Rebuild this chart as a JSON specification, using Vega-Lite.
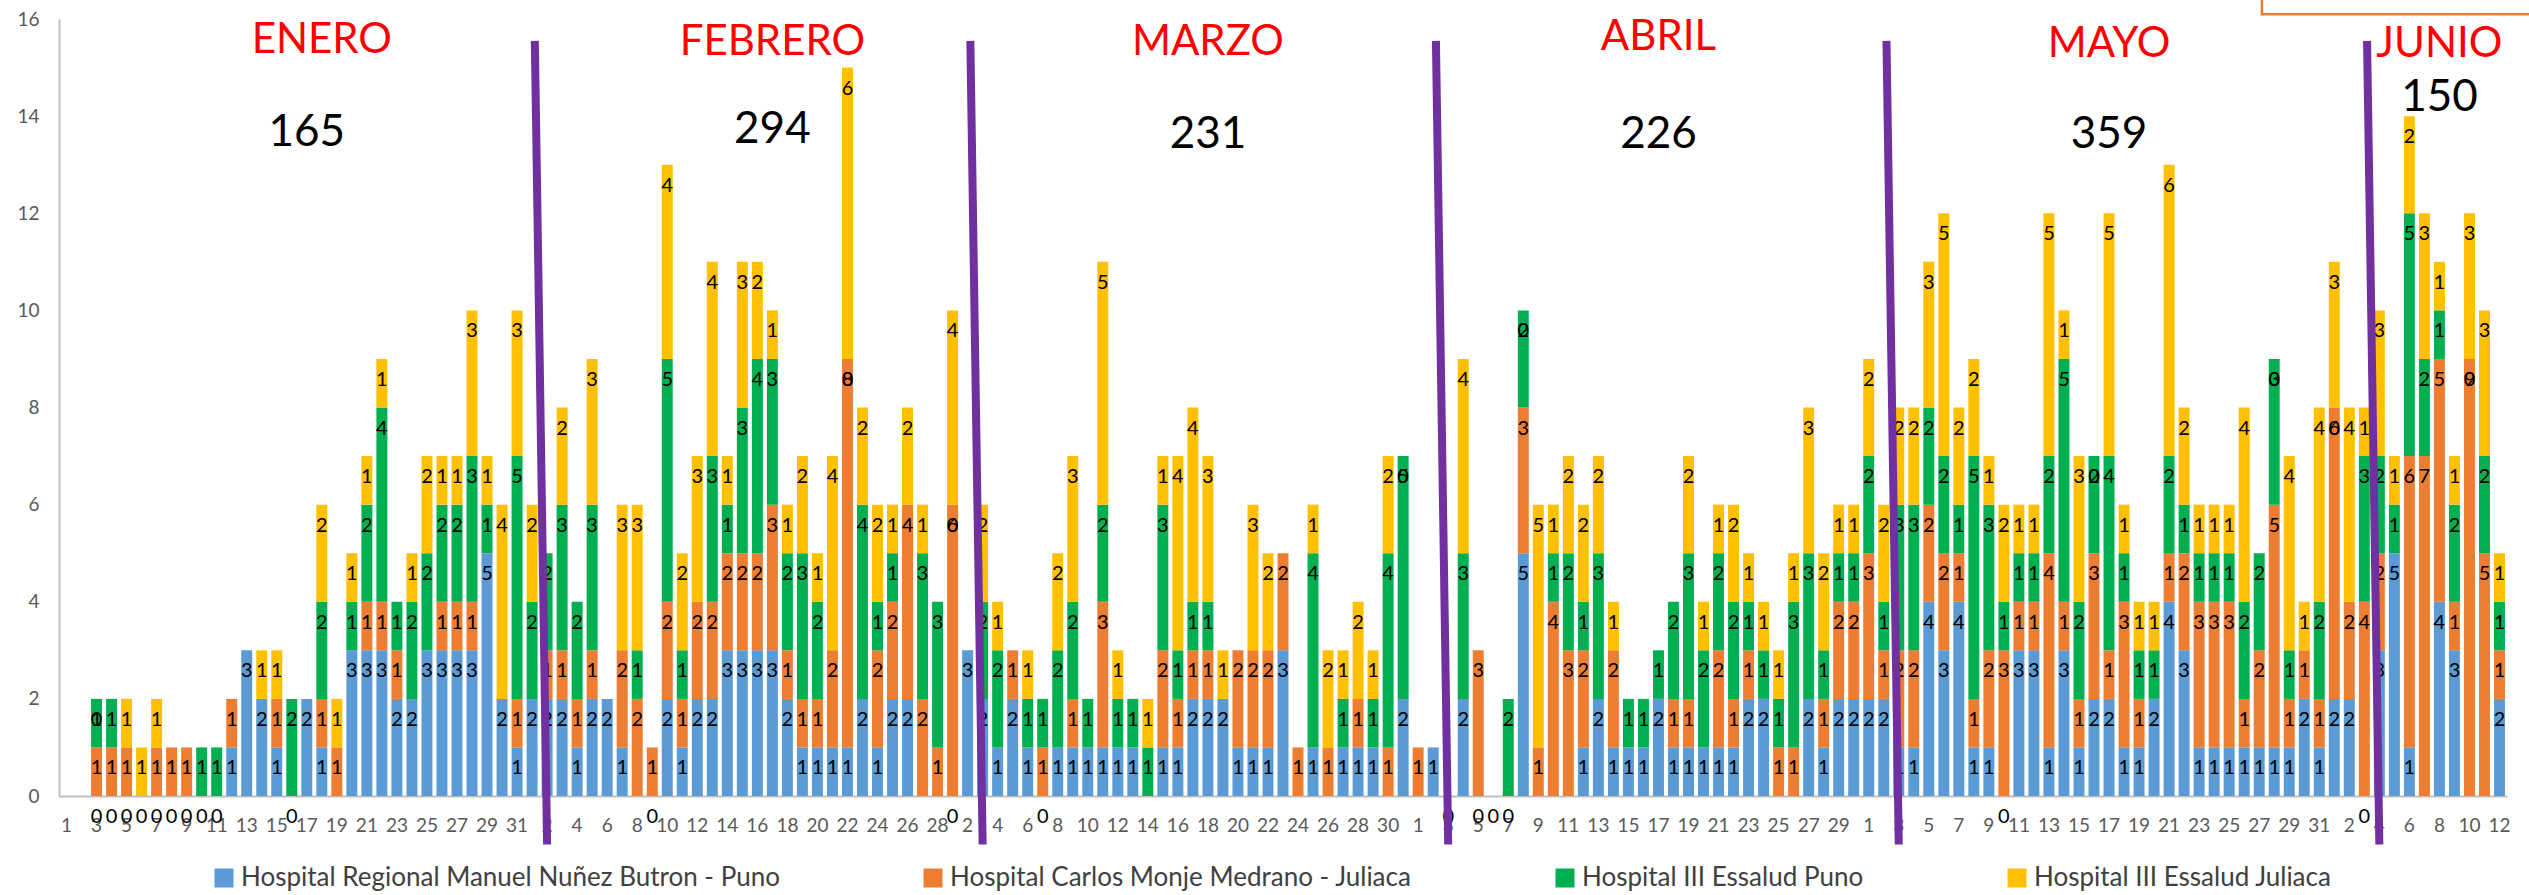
{
  "$schema": "https://vega.github.io/schema/vega-lite/v6.json",
  "width": 2448,
  "height": 777,
  "autosize": {"type": "none"},
  "padding": {"left": 59, "top": 19, "right": 22, "bottom": 99},
  "background": "white",
  "config": {
    "view": {"stroke": null},
    "font": "Lato",
    "text": {"font": "Lato"}
  },
  "data": {
    "values": [
      {"d":"0101","h1":0,"h2":0,"h3":0,"h4":0},{"d":"0102","h1":0,"h2":0,"h3":0,"h4":0},{"d":"0103","h1":0,"h2":1,"h3":1,"h4":0,"z":"h1 h4"},{"d":"0104","h1":0,"h2":1,"h3":1,"h4":0,"z":"h1"},{"d":"0105","h1":0,"h2":1,"h3":0,"h4":1,"z":"h1"},{"d":"0106","h1":0,"h2":0,"h3":0,"h4":1,"z":"h1"},{"d":"0107","h1":0,"h2":1,"h3":0,"h4":1,"z":"h1"},{"d":"0108","h1":0,"h2":1,"h3":0,"h4":0,"z":"h1"},{"d":"0109","h1":0,"h2":1,"h3":0,"h4":0,"z":"h1"},{"d":"0110","h1":0,"h2":0,"h3":1,"h4":0,"z":"h1"},{"d":"0111","h1":0,"h2":0,"h3":1,"h4":0,"z":"h1"},{"d":"0112","h1":1,"h2":1,"h3":0,"h4":0},{"d":"0113","h1":3,"h2":0,"h3":0,"h4":0},{"d":"0114","h1":2,"h2":0,"h3":0,"h4":1},{"d":"0115","h1":1,"h2":1,"h3":0,"h4":1},{"d":"0116","h1":0,"h2":0,"h3":2,"h4":0,"z":"h1"},{"d":"0117","h1":2,"h2":0,"h3":0,"h4":0},{"d":"0118","h1":1,"h2":1,"h3":2,"h4":2},{"d":"0119","h1":0,"h2":1,"h3":0,"h4":1},{"d":"0120","h1":3,"h2":0,"h3":1,"h4":1},{"d":"0121","h1":3,"h2":1,"h3":2,"h4":1},{"d":"0122","h1":3,"h2":1,"h3":4,"h4":1},{"d":"0123","h1":2,"h2":1,"h3":1,"h4":0},{"d":"0124","h1":2,"h2":0,"h3":2,"h4":1},{"d":"0125","h1":3,"h2":0,"h3":2,"h4":2},{"d":"0126","h1":3,"h2":1,"h3":2,"h4":1},{"d":"0127","h1":3,"h2":1,"h3":2,"h4":1},{"d":"0128","h1":3,"h2":1,"h3":3,"h4":3},{"d":"0129","h1":5,"h2":0,"h3":1,"h4":1},{"d":"0130","h1":2,"h2":0,"h3":0,"h4":4},{"d":"0131","h1":1,"h2":1,"h3":5,"h4":3},
      {"d":"0201","h1":2,"h2":0,"h3":2,"h4":2},{"d":"0202","h1":2,"h2":1,"h3":2,"h4":0},{"d":"0203","h1":2,"h2":1,"h3":3,"h4":2},{"d":"0204","h1":1,"h2":1,"h3":2,"h4":0},{"d":"0205","h1":2,"h2":1,"h3":3,"h4":3},{"d":"0206","h1":2,"h2":0,"h3":0,"h4":0},{"d":"0207","h1":1,"h2":2,"h3":0,"h4":3},{"d":"0208","h1":0,"h2":2,"h3":1,"h4":3},{"d":"0209","h1":0,"h2":1,"h3":0,"h4":0,"z":"h1"},{"d":"0210","h1":2,"h2":2,"h3":5,"h4":4},{"d":"0211","h1":1,"h2":1,"h3":1,"h4":2},{"d":"0212","h1":2,"h2":2,"h3":0,"h4":3},{"d":"0213","h1":2,"h2":2,"h3":3,"h4":4},{"d":"0214","h1":3,"h2":2,"h3":1,"h4":1},{"d":"0215","h1":3,"h2":2,"h3":3,"h4":3},{"d":"0216","h1":3,"h2":2,"h3":4,"h4":2},{"d":"0217","h1":3,"h2":3,"h3":3,"h4":1},{"d":"0218","h1":2,"h2":1,"h3":2,"h4":1},{"d":"0219","h1":1,"h2":1,"h3":3,"h4":2},{"d":"0220","h1":1,"h2":1,"h3":2,"h4":1},{"d":"0221","h1":1,"h2":2,"h3":0,"h4":4},{"d":"0222","h1":1,"h2":8,"h3":0,"h4":6,"z":"h3"},{"d":"0223","h1":2,"h2":0,"h3":4,"h4":2},{"d":"0224","h1":1,"h2":2,"h3":1,"h4":2},{"d":"0225","h1":2,"h2":2,"h3":1,"h4":1},{"d":"0226","h1":2,"h2":4,"h3":0,"h4":2},{"d":"0227","h1":0,"h2":2,"h3":3,"h4":1},{"d":"0228","h1":0,"h2":1,"h3":3,"h4":0},
      {"d":"0301","h1":0,"h2":6,"h3":0,"h4":4,"z":"h1 h3"},{"d":"0302","h1":3,"h2":0,"h3":0,"h4":0},{"d":"0303","h1":2,"h2":0,"h3":2,"h4":2},{"d":"0304","h1":1,"h2":0,"h3":2,"h4":1},{"d":"0305","h1":2,"h2":1,"h3":0,"h4":0},{"d":"0306","h1":1,"h2":0,"h3":1,"h4":1},{"d":"0307","h1":0,"h2":1,"h3":1,"h4":0,"z":"h1"},{"d":"0308","h1":1,"h2":0,"h3":2,"h4":2},{"d":"0309","h1":1,"h2":1,"h3":2,"h4":3},{"d":"0310","h1":1,"h2":0,"h3":1,"h4":0},{"d":"0311","h1":1,"h2":3,"h3":2,"h4":5},{"d":"0312","h1":1,"h2":0,"h3":1,"h4":1},{"d":"0313","h1":1,"h2":0,"h3":1,"h4":0},{"d":"0314","h1":0,"h2":0,"h3":1,"h4":1},{"d":"0315","h1":1,"h2":2,"h3":3,"h4":1},{"d":"0316","h1":1,"h2":1,"h3":1,"h4":4},{"d":"0317","h1":2,"h2":1,"h3":1,"h4":4},{"d":"0318","h1":2,"h2":1,"h3":1,"h4":3},{"d":"0319","h1":2,"h2":0,"h3":0,"h4":1},{"d":"0320","h1":1,"h2":2,"h3":0,"h4":0},{"d":"0321","h1":1,"h2":2,"h3":0,"h4":3},{"d":"0322","h1":1,"h2":2,"h3":0,"h4":2},{"d":"0323","h1":3,"h2":2,"h3":0,"h4":0},{"d":"0324","h1":0,"h2":1,"h3":0,"h4":0},{"d":"0325","h1":1,"h2":0,"h3":4,"h4":1},{"d":"0326","h1":0,"h2":1,"h3":0,"h4":2},{"d":"0327","h1":1,"h2":0,"h3":1,"h4":1},{"d":"0328","h1":1,"h2":1,"h3":0,"h4":2},{"d":"0329","h1":1,"h2":0,"h3":1,"h4":1},{"d":"0330","h1":0,"h2":1,"h3":4,"h4":2},{"d":"0331","h1":2,"h2":0,"h3":5,"h4":0,"z":"h4"},
      {"d":"0401","h1":0,"h2":1,"h3":0,"h4":0},{"d":"0402","h1":1,"h2":0,"h3":0,"h4":0},{"d":"0403","h1":0,"h2":0,"h3":0,"h4":0,"z":"h1"},{"d":"0404","h1":2,"h2":0,"h3":3,"h4":4},{"d":"0405","h1":0,"h2":3,"h3":0,"h4":0,"z":"h1"},{"d":"0406","h1":0,"h2":0,"h3":0,"h4":0,"z":"h1"},{"d":"0407","h1":0,"h2":0,"h3":2,"h4":0,"z":"h1"},{"d":"0408","h1":5,"h2":3,"h3":2,"h4":0,"z":"h4"},{"d":"0409","h1":0,"h2":1,"h3":0,"h4":5},{"d":"0410","h1":0,"h2":4,"h3":1,"h4":1},{"d":"0411","h1":0,"h2":3,"h3":2,"h4":2},{"d":"0412","h1":1,"h2":2,"h3":1,"h4":2},{"d":"0413","h1":2,"h2":0,"h3":3,"h4":2},{"d":"0414","h1":1,"h2":2,"h3":0,"h4":1},{"d":"0415","h1":1,"h2":0,"h3":1,"h4":0},{"d":"0416","h1":1,"h2":0,"h3":1,"h4":0},{"d":"0417","h1":2,"h2":0,"h3":1,"h4":0},{"d":"0418","h1":1,"h2":1,"h3":2,"h4":0},{"d":"0419","h1":1,"h2":1,"h3":3,"h4":2},{"d":"0420","h1":1,"h2":0,"h3":2,"h4":1},{"d":"0421","h1":1,"h2":2,"h3":2,"h4":1},{"d":"0422","h1":1,"h2":1,"h3":2,"h4":2},{"d":"0423","h1":2,"h2":1,"h3":1,"h4":1},{"d":"0424","h1":2,"h2":0,"h3":1,"h4":1},{"d":"0425","h1":0,"h2":1,"h3":1,"h4":1},{"d":"0426","h1":0,"h2":1,"h3":3,"h4":1},{"d":"0427","h1":2,"h2":0,"h3":3,"h4":3},{"d":"0428","h1":1,"h2":1,"h3":1,"h4":2},{"d":"0429","h1":2,"h2":2,"h3":1,"h4":1},{"d":"0430","h1":2,"h2":2,"h3":1,"h4":1},
      {"d":"0501","h1":2,"h2":3,"h3":2,"h4":2},{"d":"0502","h1":2,"h2":1,"h3":1,"h4":2},{"d":"0503","h1":1,"h2":2,"h3":3,"h4":2},{"d":"0504","h1":1,"h2":2,"h3":3,"h4":2},{"d":"0505","h1":4,"h2":2,"h3":2,"h4":3},{"d":"0506","h1":3,"h2":2,"h3":2,"h4":5},{"d":"0507","h1":4,"h2":1,"h3":1,"h4":2},{"d":"0508","h1":1,"h2":1,"h3":5,"h4":2},{"d":"0509","h1":1,"h2":2,"h3":3,"h4":1},{"d":"0510","h1":0,"h2":3,"h3":1,"h4":2,"z":"h1"},{"d":"0511","h1":3,"h2":1,"h3":1,"h4":1},{"d":"0512","h1":3,"h2":1,"h3":1,"h4":1},{"d":"0513","h1":1,"h2":4,"h3":2,"h4":5},{"d":"0514","h1":3,"h2":1,"h3":5,"h4":1},{"d":"0515","h1":1,"h2":1,"h3":2,"h4":3},{"d":"0516","h1":2,"h2":3,"h3":2,"h4":0,"z":"h4"},{"d":"0517","h1":2,"h2":1,"h3":4,"h4":5},{"d":"0518","h1":1,"h2":3,"h3":1,"h4":1},{"d":"0519","h1":1,"h2":1,"h3":1,"h4":1},{"d":"0520","h1":2,"h2":0,"h3":1,"h4":1},{"d":"0521","h1":4,"h2":1,"h3":2,"h4":6},{"d":"0522","h1":3,"h2":2,"h3":1,"h4":2},{"d":"0523","h1":1,"h2":3,"h3":1,"h4":1},{"d":"0524","h1":1,"h2":3,"h3":1,"h4":1},{"d":"0525","h1":1,"h2":3,"h3":1,"h4":1},{"d":"0526","h1":1,"h2":1,"h3":2,"h4":4},{"d":"0527","h1":1,"h2":2,"h3":2,"h4":0},{"d":"0528","h1":1,"h2":5,"h3":3,"h4":0,"z":"h4"},{"d":"0529","h1":1,"h2":1,"h3":1,"h4":4},{"d":"0530","h1":2,"h2":1,"h3":0,"h4":1},{"d":"0531","h1":1,"h2":1,"h3":2,"h4":4},
      {"d":"0601","h1":2,"h2":6,"h3":0,"h4":3,"z":"h3"},{"d":"0602","h1":2,"h2":2,"h3":0,"h4":4},{"d":"0603","h1":0,"h2":4,"h3":3,"h4":1,"z":"h1"},{"d":"0604","h1":3,"h2":2,"h3":2,"h4":3},{"d":"0605","h1":5,"h2":0,"h3":1,"h4":1},{"d":"0606","h1":1,"h2":6,"h3":5,"h4":2},{"d":"0607","h1":0,"h2":7,"h3":2,"h4":3},{"d":"0608","h1":4,"h2":5,"h3":1,"h4":1},{"d":"0609","h1":3,"h2":1,"h3":2,"h4":1},{"d":"0610","h1":0,"h2":9,"h3":0,"h4":3,"z":"h3"},{"d":"0611","h1":0,"h2":5,"h3":2,"h4":3},{"d":"0612","h1":2,"h2":1,"h3":1,"h4":1}
    ]
  },
  "layer": [
    {
      "transform": [{"fold": ["h1", "h2", "h3", "h4"], "as": ["s", "n"]}],
      "mark": {"type": "bar"},
      "encoding": {
        "x": {
          "field": "d", "type": "ordinal",
          "scale": {"type": "band", "paddingInner": 0.27, "paddingOuter": 0.135},
          "axis": {
            "title": null,
            "values": ["0101","0103","0105","0107","0109","0111","0113","0115","0117","0119","0121","0123","0125","0127","0129","0131","0202","0204","0206","0208","0210","0212","0214","0216","0218","0220","0222","0224","0226","0228","0302","0304","0306","0308","0310","0312","0314","0316","0318","0320","0322","0324","0326","0328","0330","0401","0403","0405","0407","0409","0411","0413","0415","0417","0419","0421","0423","0425","0427","0429","0501","0503","0505","0507","0509","0511","0513","0515","0517","0519","0521","0523","0525","0527","0529","0531","0602","0604","0606","0608","0610","0612"],
            "labelExpr": "toNumber(substring(datum.value, 2, 4))",
            "labelAngle": 0,
            "labelOverlap": false,
            "ticks": false,
            "domainColor": "#BFBFBF",
            "domainWidth": 2,
            "labelFontSize": 19,
            "labelColor": "#595959",
            "labelPadding": 20
          }
        },
        "y": {
          "field": "n", "type": "quantitative", "stack": "zero",
          "scale": {"domain": [0, 16], "nice": false},
          "axis": {
            "title": null,
            "values": [0, 2, 4, 6, 8, 10, 12, 14, 16],
            "grid": false,
            "ticks": false,
            "domainColor": "#BFBFBF",
            "domainWidth": 2,
            "labelFontSize": 19,
            "labelColor": "#595959",
            "labelPadding": 20
          }
        },
        "color": {
          "field": "s", "type": "nominal",
          "scale": {"domain": ["h1", "h2", "h3", "h4"], "range": ["#5B9BD5", "#ED7D31", "#00B050", "#FFC000"]},
          "legend": {
            "title": null,
            "orient": "none",
            "direction": "horizontal",
            "legendX": 152,
            "legendY": 846,
            "symbolType": "square",
            "symbolSize": 361,
            "symbolStrokeWidth": 0,
            "labelFontSize": 26,
            "labelColor": "#404040",
            "labelLimit": 1000,
            "columnPadding": 140,
            "labelExpr": "datum.value == 'h1' ? 'Hospital Regional Manuel Nuñez Butron - Puno' : datum.value == 'h2' ? 'Hospital Carlos Monje Medrano - Juliaca' : datum.value == 'h3' ? 'Hospital III Essalud Puno' : 'Hospital III Essalud Juliaca'"
          }
        },
        "order": {"field": "s", "sort": "ascending"}
      }
    },
    {
      "transform": [{"fold": ["h1", "h2", "h3", "h4"], "as": ["s", "n"]}, {"filter": "datum.n > 0 || indexof(datum.z || '', datum.s) >= 0"}],
      "mark": {"type": "text", "fontSize": 20, "color": "black", "baseline": "middle", "dy": 21, "clip": false},
      "encoding": {
        "x": {"field": "d", "type": "ordinal"},
        "y": {"field": "n", "type": "quantitative", "stack": "zero"},
        "detail": {"field": "s"},
        "order": {"field": "s", "sort": "ascending"},
        "text": {"field": "n", "type": "quantitative"}
      }
    },
    {
      "data": {"values": [{"d": "0201", "d2": "0202"}, {"d": "0302", "d2": "0303"}, {"d": "0402", "d2": "0403"}, {"d": "0502", "d2": "0503"}, {"d": "0603", "d2": "0604"}]},
      "mark": {"type": "rule", "color": "#7030A0", "strokeWidth": 8, "clip": false},
      "encoding": {
        "x": {"field": "d", "type": "ordinal", "bandPosition": 0.75},
        "x2": {"field": "d2"},
        "y": {"datum": 15.55},
        "y2": {"datum": -1.0}
      }
    },
    {
      "data": {"values": [{"d": "0118", "y": 15.57, "t": "ENERO"}, {"d": "0217", "y": 15.53, "t": "FEBRERO"}, {"d": "0318", "y": 15.53, "t": "MARZO"}, {"d": "0417", "y": 15.62, "t": "ABRIL"}, {"d": "0517", "y": 15.49, "t": "MAYO"}, {"d": "0608", "y": 15.49, "t": "JUNIO"}]},
      "mark": {"type": "text", "fontSize": 42, "color": "#FF0000", "baseline": "middle", "clip": false},
      "encoding": {
        "x": {"field": "d", "type": "ordinal"},
        "y": {"field": "y", "type": "quantitative"},
        "text": {"field": "t"}
      }
    },
    {
      "data": {"values": [{"d": "0117", "y": 13.65, "t": "165"}, {"d": "0217", "y": 13.71, "t": "294"}, {"d": "0318", "y": 13.61, "t": "231"}, {"d": "0417", "y": 13.61, "t": "226"}, {"d": "0517", "y": 13.61, "t": "359"}, {"d": "0608", "y": 14.38, "t": "150"}]},
      "mark": {"type": "text", "fontSize": 44, "color": "black", "baseline": "middle", "clip": false},
      "encoding": {
        "x": {"field": "d", "type": "ordinal"},
        "y": {"field": "y", "type": "quantitative"},
        "text": {"field": "t"}
      }
    },
    {
      "data": {"values": [{"d": "0606", "y": 16.1, "y2": 17.5}]},
      "mark": {"type": "bar", "width": 295, "fill": null, "fillOpacity": 0, "stroke": "#ED7D31", "strokeWidth": 2.5, "clip": false},
      "encoding": {
        "x": {"field": "d", "type": "ordinal"},
        "y": {"field": "y", "type": "quantitative"},
        "y2": {"field": "y2"}
      }
    }
  ]
}
